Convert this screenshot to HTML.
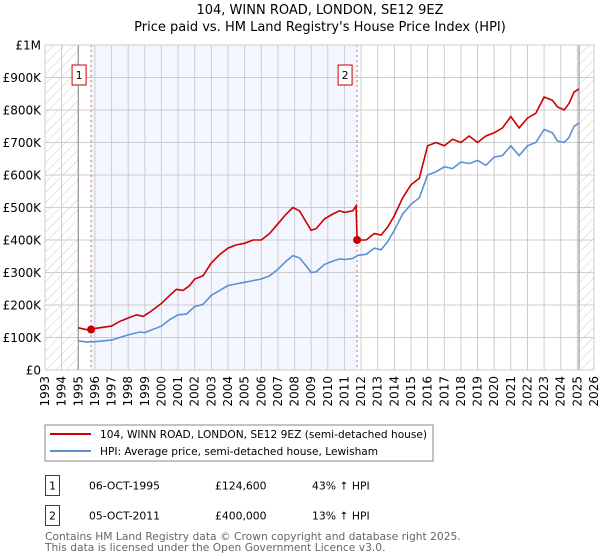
<!DOCTYPE html>
<html><head><meta charset="utf-8"><style>
body{margin:0;background:#fff;font-family:"Liberation Sans","DejaVu Sans",sans-serif}
svg{display:block}
</style></head><body>
<svg width="600" height="560" id="svg" font-family="DejaVu Sans, Liberation Sans, sans-serif">
<defs>
<pattern id="hatch" width="7" height="7" patternUnits="userSpaceOnUse" patternTransform="rotate(45)"><line x1="0" y1="0" x2="0" y2="7" stroke="#ccc" stroke-width="1"/></pattern>
</defs>
<text x="320" y="14" text-anchor="middle" font-size="13">104, WINN ROAD, LONDON, SE12 9EZ</text>
<text x="320" y="31" text-anchor="middle" font-size="13">Price paid vs. HM Land Registry's House Price Index (HPI)</text>
<g id="plot"></g>
<g>
<rect x="45" y="425" width="388" height="36" fill="#fff" stroke="#888"/>
<line x1="50" y1="434" x2="91" y2="434" stroke="#cc0000" stroke-width="2"/>
<text x="100" y="438" font-size="10.6">104, WINN ROAD, LONDON, SE12 9EZ (semi-detached house)</text>
<line x1="50" y1="451" x2="91" y2="451" stroke="#5b8fd6" stroke-width="2"/>
<text x="100" y="455" font-size="10.6">HPI: Average price, semi-detached house, Lewisham</text>
</g>
<g font-size="10.8">
<rect x="45.5" y="475.5" width="14" height="20" fill="#fff" stroke="#cc0000"/><text x="52.5" y="489.5" text-anchor="middle">1</text>
<text x="89" y="489.5">06-OCT-1995</text><text x="215" y="489.5">£124,600</text><text x="312" y="489.5">43% ↑ HPI</text>
<rect x="45.5" y="505.5" width="14" height="20" fill="#fff" stroke="#cc0000"/><text x="52.5" y="519.5" text-anchor="middle">2</text>
<text x="89" y="519.5">05-OCT-2011</text><text x="215" y="519.5">£400,000</text><text x="312" y="519.5">13% ↑ HPI</text>
</g>
<g font-size="10.7" fill="#666">
<text x="45" y="540">Contains HM Land Registry data © Crown copyright and database right 2025.</text>
<text x="45" y="551">This data is licensed under the Open Government Licence v3.0.</text>
</g>
</svg>
<script>
const yTicks=[0,100,200,300,400,500,600,700,800,900,1000];
const yLabels=["£0","£100K","£200K","£300K","£400K","£500K","£600K","£700K","£800K","£900K","£1M"];
const years=[1993,1994,1995,1996,1997,1998,1999,2000,2001,2002,2003,2004,2005,2006,2007,2008,2009,2010,2011,2012,2013,2014,2015,2016,2017,2018,2019,2020,2021,2022,2023,2024,2025,2026];
const hpiT=[1995.0,1995.5,1996,1997,1998,1998.7,1999,2000,2000.5,2001,2001.5,2002,2002.5,2003,2003.5,2004,2004.5,2005,2005.5,2006,2006.5,2007,2007.5,2007.9,2008.3,2008.7,2009,2009.3,2009.8,2010.3,2010.7,2011,2011.5,2011.8,2012.3,2012.8,2013.2,2013.6,2014,2014.5,2015,2015.5,2016,2016.5,2017,2017.5,2018,2018.5,2019,2019.5,2020,2020.5,2021,2021.5,2022,2022.5,2023,2023.5,2023.8,2024.2,2024.5,2024.8,2025.1];
const hpiV=[90,86,87,92,108,117,115,135,155,170,172,195,202,230,245,260,265,270,275,280,290,310,335,352,345,320,300,302,325,335,342,340,343,353,356,375,370,395,430,480,510,530,600,610,625,620,640,635,645,630,655,660,690,660,690,700,740,730,705,700,715,750,760];
const redT=[1995.0,1995.5,1995.77,1996,1997,1997.5,1998,1998.5,1998.9,1999.3,2000,2000.5,2000.9,2001.3,2001.7,2002,2002.5,2003,2003.5,2004,2004.5,2005,2005.5,2006,2006.5,2007,2007.5,2007.9,2008.3,2008.7,2009,2009.3,2009.8,2010.3,2010.7,2011,2011.5,2011.7,2011.76,2012.3,2012.8,2013.2,2013.6,2014,2014.5,2015,2015.5,2016,2016.5,2017,2017.5,2018,2018.5,2019,2019.5,2020,2020.5,2021,2021.5,2022,2022.5,2023,2023.5,2023.8,2024.2,2024.5,2024.8,2025.1];
const redV=[130,124,124.6,128,135,150,160,170,165,178,205,230,248,245,260,280,290,330,355,375,385,390,400,400,420,450,480,500,490,455,430,435,465,480,490,485,490,505,400,400,420,415,440,475,530,570,590,690,700,690,710,700,720,700,720,730,745,780,745,775,790,840,830,810,800,820,855,865];
const saleT=[1995.77,2011.76];
const saleV=[124.6,400];
const saleLabels=["1","2"];
const x0=45,x1=594,yTop=45,yBot=370,tMin=1993,tMax=2026,vMax=1000;
const X=t=>x0+(t-tMin)/(tMax-tMin)*(x1-x0);
const Y=v=>yBot-v/vMax*(yBot-yTop);
const NS="http://www.w3.org/2000/svg";
const g=document.getElementById('plot');
function mk(tag,attrs,parent){const e=document.createElementNS(NS,tag);for(const k in attrs)e.setAttribute(k,attrs[k]);(parent||g).appendChild(e);return e;}
let e;
e=mk('rect',{x:X(1993),y:yTop,width:X(1995)-X(1993),height:yBot-yTop,fill:'url(#hatch)'});


e=mk('rect',{x:X(2025.1),y:yTop,width:X(2026)-X(2025.1),height:yBot-yTop,fill:'url(#hatch)'});


e=mk('rect',{x:X(saleT[0]),y:yTop,width:X(saleT[1])-X(saleT[0]),height:yBot-yTop,fill:'#f3f6fe'});


years.forEach(y=>{e=mk('line',{x1:X(y),x2:X(y),y1:yTop,y2:yBot,stroke:'#ccc','stroke-width':1});


e=mk('text',{x:0,y:0,transform:`translate(${X(y)+4},${yBot+6}) rotate(-90)`,'text-anchor':'end','font-size':12});e.textContent=String(y);

});
yTicks.forEach((v,i)=>{e=mk('line',{x1:x0,x2:x1,y1:Y(v),y2:Y(v),stroke:'#ccc','stroke-width':1});


e=mk('text',{x:x0-4,y:Y(v)+4.5,'text-anchor':'end','font-size':12});e.textContent=yLabels[i];

});
e=mk('line',{x1:X(1995),x2:X(1995),y1:yTop,y2:yBot,stroke:'#888','stroke-width':1});


e=mk('line',{x1:X(2025.1),x2:X(2025.1),y1:yTop,y2:yBot,stroke:'#888','stroke-width':1});


saleT.forEach((t,i)=>{e=mk('line',{x1:X(t),x2:X(t),y1:yTop,y2:yBot,stroke:'#e06060','stroke-width':1,'stroke-dasharray':'2,3'});


e=mk('rect',{x:X(t)-19,y:65,width:14,height:20,fill:'#fff',stroke:'#cc0000'});


e=mk('text',{x:X(t)-12,y:79,'text-anchor':'middle','font-size':11});e.textContent=saleLabels[i];

});
e=mk('path',{d:hpiT.map((t,i)=>(i?'L':'M')+X(t).toFixed(1)+','+Y(hpiV[i]).toFixed(1)).join(''),fill:'none',stroke:'#5b8fd6','stroke-width':1.6});


e=mk('path',{d:redT.map((t,i)=>(i?'L':'M')+X(t).toFixed(1)+','+Y(redV[i]).toFixed(1)).join(''),fill:'none',stroke:'#cc0000','stroke-width':1.6});


saleT.forEach((t,i)=>{e=mk('circle',{cx:X(t),cy:Y(saleV[i]),r:4,fill:'#cc0000'});

});
e=mk('rect',{x:x0,y:yTop,width:x1-x0,height:yBot-yTop,fill:'none',stroke:'#ccc'});


</script>
</body></html>
